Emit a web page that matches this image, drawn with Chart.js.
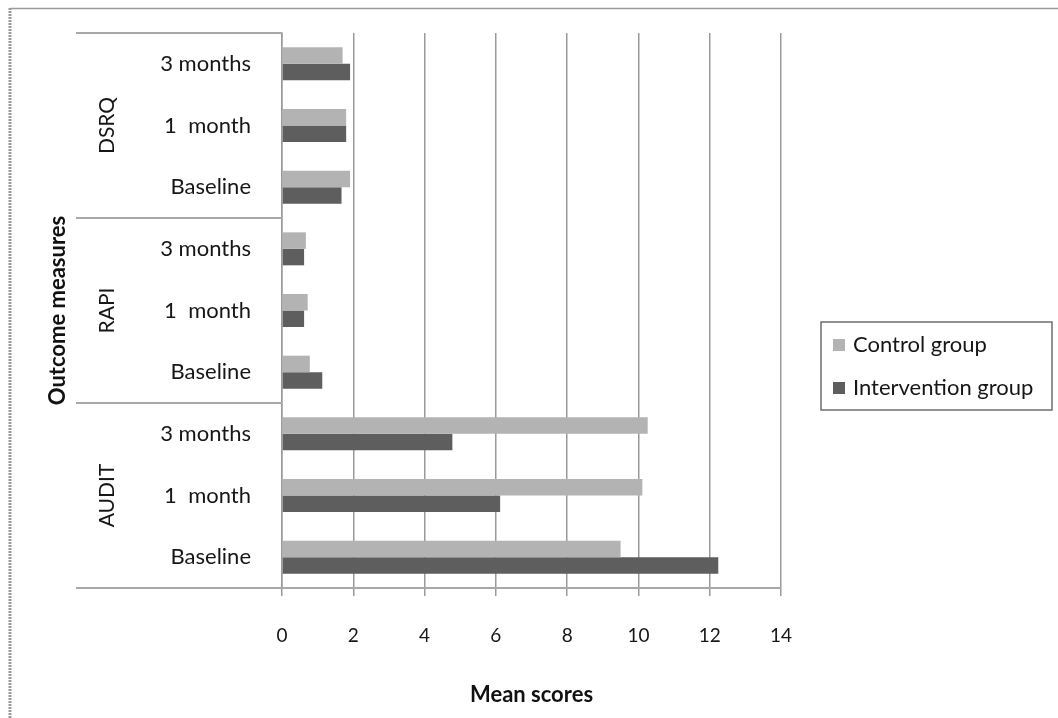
<!DOCTYPE html>
<html>
<head>
<meta charset="utf-8">
<script src="https://cdn.jsdelivr.net/npm/chart.js@4/dist/chart.umd.min.js"></script>
<style>
  html, body { margin: 0; padding: 0; background: #ffffff; }
  #wrap { width: 1058px; height: 718px; position: relative; }
  canvas { display: block; }
</style>
</head>
<body>
<div id="wrap"><canvas id="chart" width="1058" height="718"></canvas></div>
<script>
// Time points shown inside each outcome block (top to bottom)
const timepoints = ['3 months', '1  month', 'Baseline'];
// Outcome measures, top block first
const measures = ['DSRQ', 'RAPI', 'AUDIT'];
// One row label per bar pair
const categories = [
  '3 months', '1  month', 'Baseline',
  '3 months', '1  month', 'Baseline',
  '3 months', '1  month', 'Baseline'
];
// Mean scores per row (DSRQ, RAPI, AUDIT blocks)
const controlScores = [1.70, 1.80, 1.91, 0.67, 0.72, 0.78, 10.26, 10.11, 9.50];
const interventionScores = [1.91, 1.80, 1.67, 0.62, 0.62, 1.13, 4.78, 6.12, 12.24];
// Value axis ticks
const xTicks = [0, 2, 4, 6, 8, 10, 12, 14];
const seriesNames = ['Control group', 'Intervention group'];
const seriesColors = ['#b3b3b3', '#5e5e5e'];

const FONT = 'Lato, "Open Sans", "Liberation Sans", sans-serif';
const TEXT = '#161616';

// Block separators, block names and the legend box
const frame = {
  id: 'frame',
  afterDraw(chart) {
    const ctx = chart.ctx;
    const area = chart.chartArea;
    const y = chart.scales.y;
    const n = timepoints.length;
    const leftEdge = area.left - 206;

    ctx.save();
    // outer border of the figure
    ctx.strokeStyle = '#9a9a9a';
    ctx.lineWidth = 3;
    ctx.setLineDash([2, 1]);
    ctx.beginPath();
    ctx.moveTo(10, 718);
    ctx.lineTo(10, 8);
    ctx.stroke();
    ctx.setLineDash([]);
    ctx.lineWidth = 1.5;
    ctx.beginPath();
    ctx.moveTo(10, 8.5);
    ctx.lineTo(1058, 8.5);
    ctx.stroke();

    // horizontal lines bounding each block in the label column
    const bounds = [area.top];
    for (let g = 1; g < measures.length; g++) {
      const a = y.getPixelForTick(g * n - 1);
      const b = y.getPixelForTick(g * n);
      bounds.push((a + b) / 2);
    }
    bounds.push(area.bottom);
    ctx.strokeStyle = '#a8a8a8';
    ctx.lineWidth = 2;
    bounds.forEach(by => {
      ctx.beginPath();
      ctx.moveTo(leftEdge, Math.round(by));
      ctx.lineTo(area.left, Math.round(by));
      ctx.stroke();
    });

    // rotated block names
    ctx.fillStyle = TEXT;
    ctx.font = '21px ' + FONT;
    ctx.textAlign = 'center';
    ctx.textBaseline = 'middle';
    measures.forEach((m, i) => {
      const cy = (bounds[i] + bounds[i + 1]) / 2;
      ctx.save();
      ctx.translate(area.left - 175, cy);
      ctx.rotate(-Math.PI / 2);
      ctx.fillText(m, 0, 0);
      ctx.restore();
    });

    // legend
    const lx = area.right + 40, ly = 322, lw = 231, lh = 88;
    ctx.strokeStyle = '#6e6e6e';
    ctx.lineWidth = 1.5;
    ctx.strokeRect(lx, ly, lw, lh);
    ctx.font = '22px ' + FONT;
    ctx.textAlign = 'left';
    chart.data.datasets.forEach((ds, i) => {
      const cy = ly + 23 + i * 43;
      ctx.fillStyle = ds.backgroundColor;
      ctx.fillRect(lx + 12, cy - 6, 12, 12);
      ctx.fillStyle = TEXT;
      ctx.fillText(ds.label, lx + 32, cy);
    });
    ctx.restore();
  }
};

new Chart(document.getElementById('chart'), {
  type: 'bar',
  data: {
    labels: categories,
    datasets: [
      { label: seriesNames[0], data: controlScores, backgroundColor: seriesColors[0] },
      { label: seriesNames[1], data: interventionScores, backgroundColor: seriesColors[1] }
    ]
  },
  options: {
    indexAxis: 'y',
    responsive: false,
    animation: false,
    devicePixelRatio: 1,
    layout: { padding: { left: 0, top: 33, right: 277, bottom: 0 } },
    datasets: { bar: { categoryPercentage: 0.535, barPercentage: 1.0, borderWidth: 0 } },
    plugins: { legend: { display: false }, tooltip: { enabled: false } },
    scales: {
      x: {
        min: 0,
        max: 14,
        afterBuildTicks: s => { s.ticks = xTicks.map(v => ({ value: v })); },
        afterFit: s => { s.height = 130; s.paddingLeft = 0; s.paddingRight = 0; },
        grid: { color: '#9a9a9a', lineWidth: 1.5, drawTicks: true, tickLength: 8, tickColor: '#9a9a9a' },
        border: { display: true, color: '#a8a8a8', width: 2 },
        ticks: { font: { family: FONT, size: 19 }, color: TEXT, padding: 28 },
        title: {
          display: true,
          text: 'Mean scores',
          font: { family: FONT, size: 22, weight: 'bold' },
          color: '#111',
          padding: { top: 0, bottom: 10 }
        }
      },
      y: {
        afterFit: s => { s.width = 282; s.paddingTop = 0; s.paddingBottom = 0; },
        grid: { display: false, drawTicks: false },
        border: { display: true, color: '#9a9a9a', width: 1.5 },
        ticks: { font: { family: FONT, size: 22 }, color: TEXT, padding: 31 },
        title: {
          display: true,
          text: 'Outcome measures',
          font: { family: FONT, size: 22, weight: 'bold' },
          color: '#111',
          padding: { top: 45, bottom: 0 }
        }
      }
    }
  },
  plugins: [frame]
});
</script>
</body>
</html>
